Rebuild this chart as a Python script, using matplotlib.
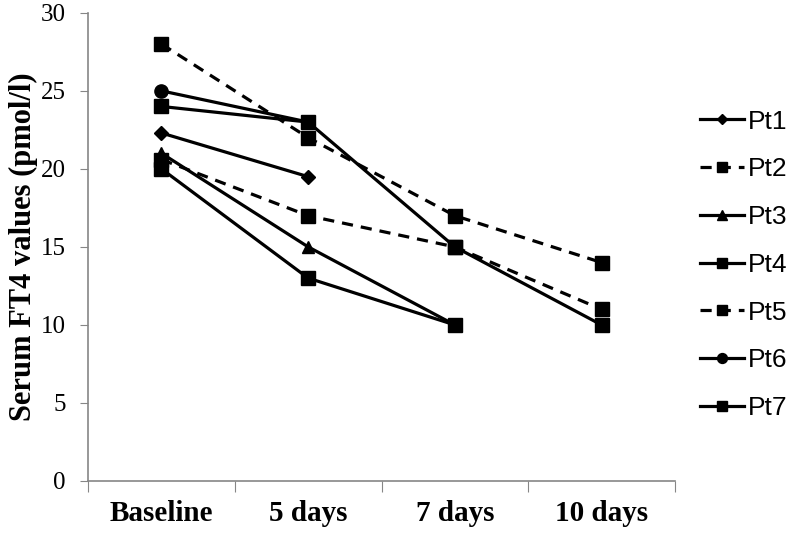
import numpy as np
import matplotlib.pyplot as plt

days = ['Baseline', '5 days', '7 days', '10 days']

pt1 = [22.3, 19.5]
pt2 = [28, 22, 17, 14]
pt3 = [21, 15, 10]
pt4 = [24, 23, 15, 10]
pt5 = [20.6, 17, 15, 11]
pt6 = [25, 23]
pt7 = [20, 13, 10]

series = [
    ('Pt1', pt1, 'D', '-', 7),
    ('Pt2', pt2, 's', '--', 10),
    ('Pt3', pt3, '^', '-', 9),
    ('Pt4', pt4, 's', '-', 10),
    ('Pt5', pt5, 's', '--', 10),
    ('Pt6', pt6, 'o', '-', 9.5),
    ('Pt7', pt7, 's', '-', 10),
]


def main():
    fig = plt.figure(figsize=(7.94, 5.35), dpi=100)
    ax = fig.add_axes([0.111, 0.101, 0.739, 0.875])

    for name, vals, mk, ls, ms in series:
        x = np.arange(len(vals))
        ax.plot(x, vals, color='black', linestyle=ls, linewidth=2.3,
                marker=mk, markersize=ms, label=name,
                dashes=(3.5, 2.5) if ls == '--' else (None, None))

    ax.set_xlim(-0.5, 3.5)
    ax.set_ylim(0, 30)
    ax.set_yticks(range(0, 31, 5))
    ax.set_xticks(np.arange(-0.5, 4, 1))
    ax.set_xticklabels([])
    ax.set_xticks(np.arange(len(days)), minor=True)
    ax.set_xticklabels(days, minor=True, fontfamily='Liberation Serif',
                       fontweight='bold', fontsize=21)
    ax.tick_params(axis='x', which='minor', length=0, pad=14)
    ax.tick_params(axis='x', which='major', length=8, color='#868686')
    ax.tick_params(axis='y', length=6, color='#868686', pad=10)
    for lab in ax.get_yticklabels():
        lab.set_fontfamily('Liberation Serif')
        lab.set_fontsize(18)

    for s in ['top', 'right']:
        ax.spines[s].set_visible(False)
    for s in ['left', 'bottom']:
        ax.spines[s].set_color('#868686')
        ax.spines[s].set_linewidth(1.2)

    ax.set_ylabel('Serum FT4 values (pmol/l)', fontfamily='Liberation Serif',
                  fontweight='bold', fontsize=22, labelpad=2)

    fig.legend(loc='center left', bbox_to_anchor=(0.881, 0.505), frameon=False,
               prop={'family': 'Liberation Sans', 'size': 19},
               handlelength=1.7, labelspacing=0.9, handletextpad=0.12,
               markerscale=0.75, borderaxespad=0, borderpad=0)

    fig.savefig('out.png', dpi=100)


if __name__ == '__main__':
    main()
